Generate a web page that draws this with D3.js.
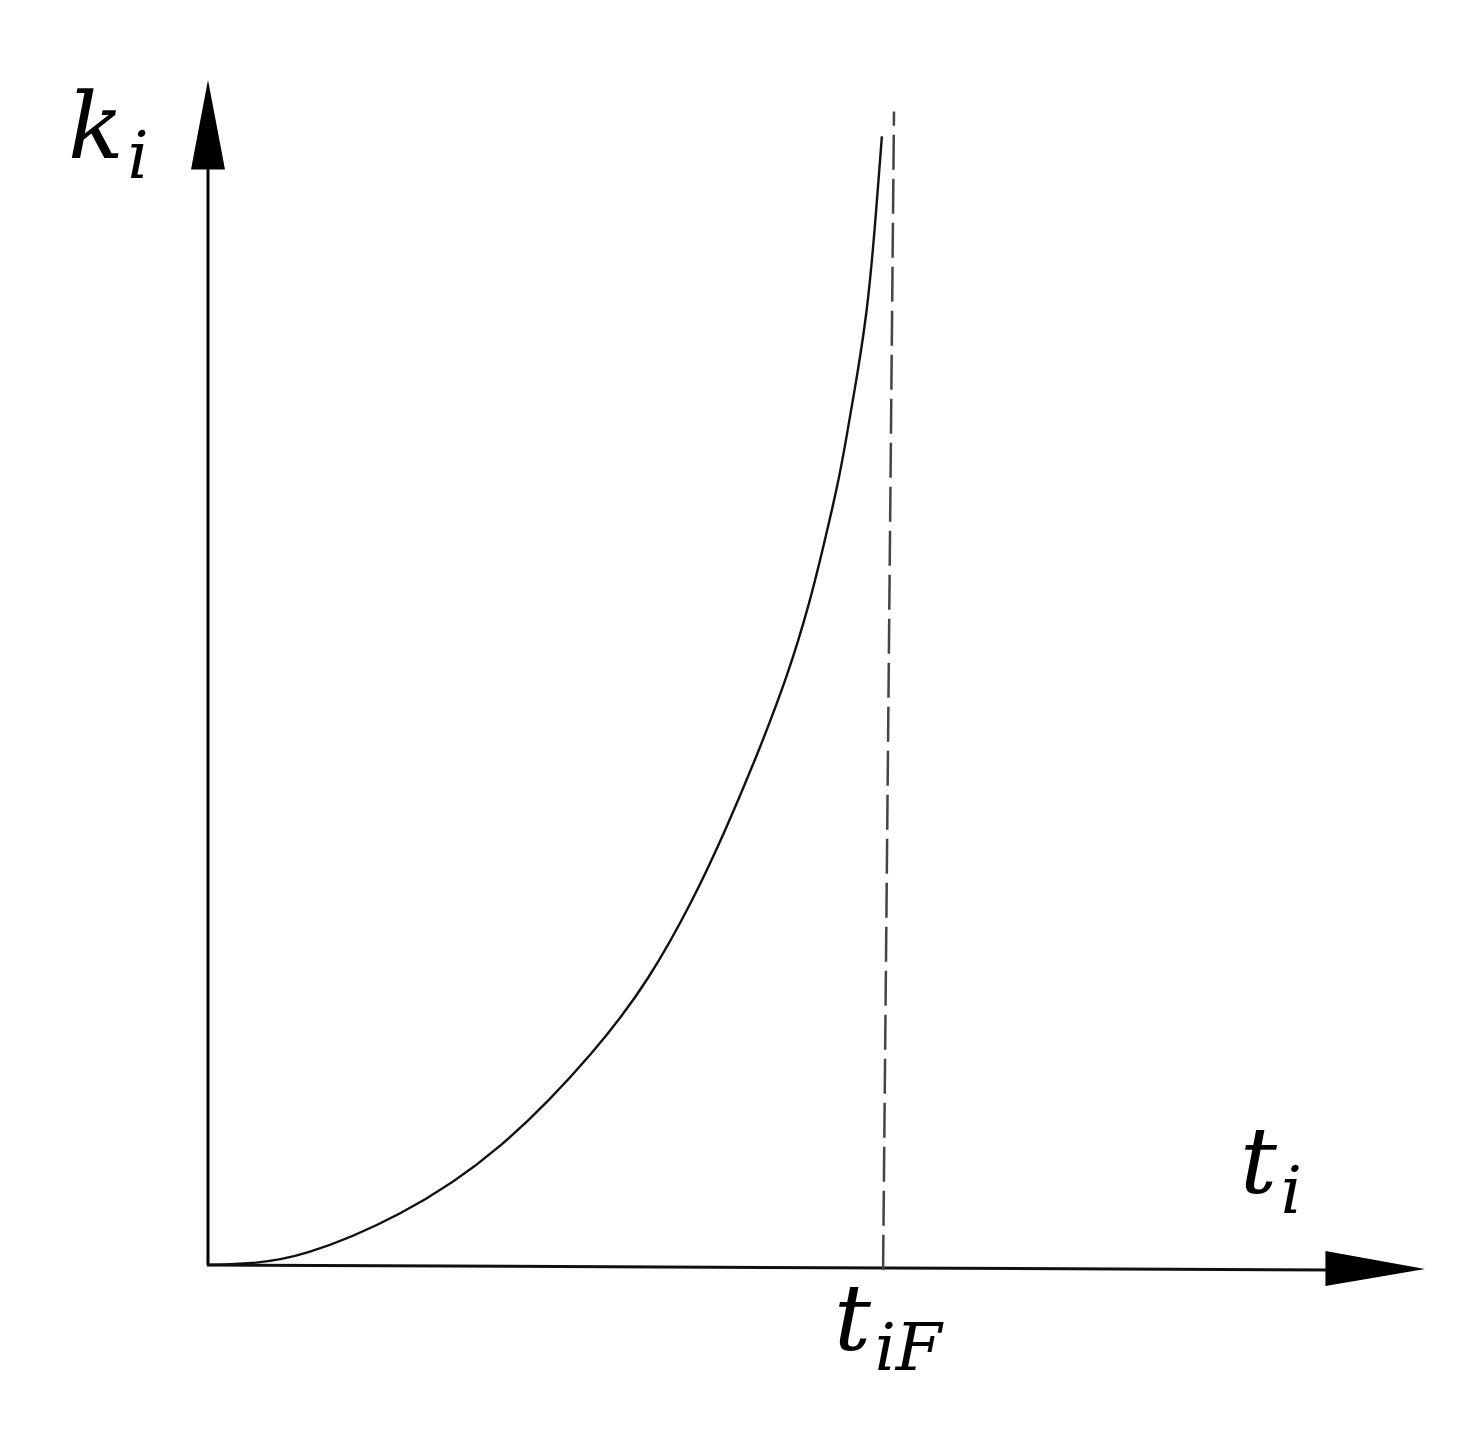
<!DOCTYPE html>
<html>
<head>
<meta charset="utf-8">
<script src="https://cdn.jsdelivr.net/npm/d3@7"></script>
<style>
  body { margin: 0; background: #fff; }
  text { font-family: 'DejaVu Serif', serif; font-style: italic; fill: #000; }
</style>
</head>
<body>
<div id="chart"></div>
<script>
// growth curve k_i(t_i) (arbitrary units)
const tValues = [0, 3.5, 7.6, 15.8, 24.1, 32.3, 36.5, 39.9, 42.6, 45.4, 47.9, 49.7, 50.7, 52.0, 52.6, 53.6, 54.4, 55.0, 55.6]
const kValues = [0, 0.1, 0.6, 4.0, 9.5, 18.4, 24.3, 30.6, 36.5, 43.3, 50.0, 56.2, 60.4, 66.1, 69.5, 75.4, 80.7, 87.3, 95.4]

// the asymptote t = t_iF (slightly leaning in the drawing)
const asymT = [55.7, 56.6]
const asymK = [-0.4, 97.5]

const axisLabels = { x: 't', xSub: 'i', y: 'k', ySub: 'i', mark: 't', markSub: 'iF' }

const width = 1468
const height = 1435

const x = d3.scaleLinear().domain([0, 100]).range([208, 1420])
const y = d3.scaleLinear().domain([0, 100]).range([1265, 82])

const svg = d3
  .select('#chart')
  .append('svg')
  .attr('width', width)
  .attr('height', height)

const g = svg.append('g')

// axes: plain lines with filled arrow heads
g.append('line')
  .attr('x1', x(0))
  .attr('y1', y(0))
  .attr('x2', x(0))
  .attr('y2', y(93))
  .attr('stroke', '#000')
  .attr('stroke-width', 3)

g.append('line')
  .attr('x1', x(0) - 1)
  .attr('y1', y(0))
  .attr('x2', x(93))
  .attr('y2', y(0) + 5)
  .attr('stroke', '#111')
  .attr('stroke-width', 3)

const head = 17
g.append('path')
  .attr('d', `M${x(0)},${y(100) - 2} L${x(0) - head},${y(92.6)} L${x(0) + head},${y(92.6)} Z`)
  .attr('fill', '#000')

g.append('path')
  .attr('d', `M${x(100) + 5},${y(0) + 4} L${x(92.2)},${y(0) - 14} L${x(92.2)},${y(0) + 21} Z`)
  .attr('fill', '#000')

// dashed asymptote
g.append('line')
  .attr('x1', x(asymT[0]))
  .attr('y1', y(asymK[0]))
  .attr('x2', x(asymT[1]))
  .attr('y2', y(asymK[1]))
  .attr('stroke', '#444')
  .attr('stroke-width', 2.5)
  .attr('stroke-dasharray', '35 9')

// the curve - basis spline smooths over the hand-read points
const points = tValues.map((t, i) => [t, kValues[i]])
const line = d3
  .line()
  .x((d) => x(d[0]))
  .y((d) => y(d[1]))
  .curve(d3.curveBasis)

g.append('path')
  .datum(points)
  .attr('d', line)
  .attr('fill', 'none')
  .attr('stroke', '#111')
  .attr('stroke-width', 2.4)

// labels with subscripts
function label(px, py, main, sub, size) {
  const t = g.append('text').attr('x', px).attr('y', py).style('font-size', size + 'px')
  t.append('tspan').text(main)
  t.append('tspan')
    .attr('dy', size * 0.22)
    .attr('dx', size * 0.04)
    .style('font-size', size * 0.72 + 'px')
    .text(sub)
}

label(68, 158, axisLabels.y, axisLabels.ySub, 92)
label(1240, 1193, axisLabels.x, axisLabels.xSub, 92)
label(834, 1350, axisLabels.mark, axisLabels.markSub, 92)
</script>
</body>
</html>
